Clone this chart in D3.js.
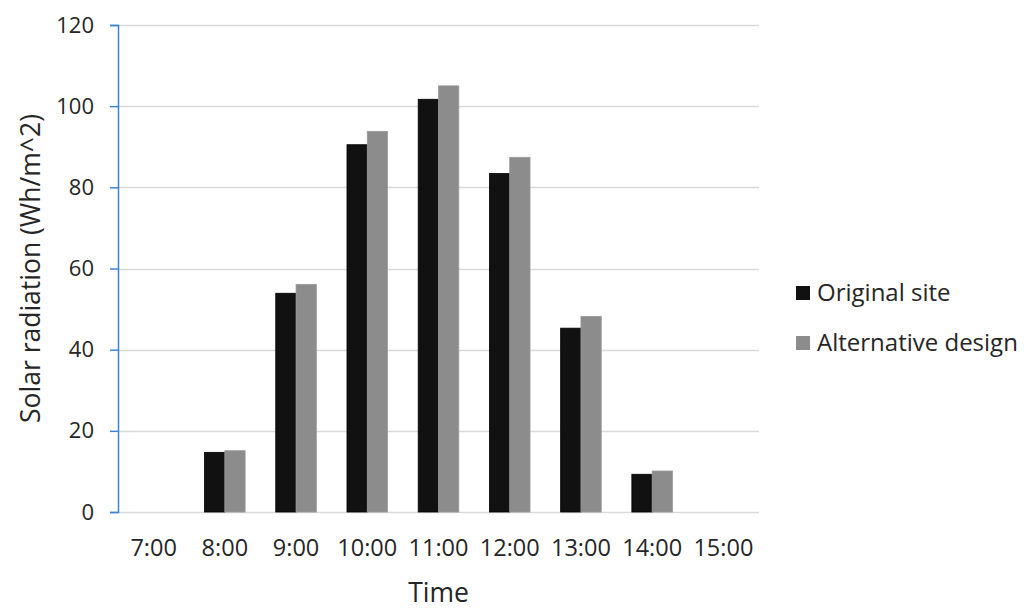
<!DOCTYPE html>
<html>
<head>
<meta charset="utf-8">
<script src="https://cdn.jsdelivr.net/npm/d3@7"></script>
<style>
  body { margin: 0; background: #fff; }
  text { font-family: "Open Sans", "Noto Sans", sans-serif; fill: #262626; }
</style>
</head>
<body>
<script>
var categories = ["7:00", "8:00", "9:00", "10:00", "11:00", "12:00", "13:00", "14:00", "15:00"];
var seriesNames = ["Original site", "Alternative design"];
var originalSite = [0, 14.7, 53.9, 90.5, 101.7, 83.4, 45.3, 9.3, 0];
var alternativeDesign = [0, 15.1, 56.1, 93.8, 105.0, 87.4, 48.2, 10.1, 0];
var yTicks = [0, 20, 40, 60, 80, 100, 120];

var colors = ["#111111", "#8c8c8c"];

var margin = {top: 25, right: 265, bottom: 102, left: 118},
    width = 1024 - margin.left - margin.right,
    height = 614 - margin.top - margin.bottom;

var data = categories.map(function(c, i) {
  return {cat: c, values: [originalSite[i], alternativeDesign[i]]};
});

var svg = d3.select("body").append("svg")
    .attr("width", 1024)
    .attr("height", 614);

var g = svg.append("g")
    .attr("transform", "translate(" + margin.left + "," + margin.top + ")");

var x = d3.scaleBand()
    .domain(categories)
    .range([0, width])
    .paddingInner(0.43)
    .paddingOuter(0.215);

var x1 = d3.scaleBand()
    .domain(d3.range(seriesNames.length))
    .range([0, x.bandwidth()]);

var y = d3.scaleLinear()
    .domain([0, 120])
    .range([height, 0]);

// gridlines
g.selectAll(".grid")
    .data(yTicks)
    .enter().append("line")
    .attr("x1", 0)
    .attr("x2", width)
    .attr("y1", function(d) { return Math.round(y(d)) + 0.5; })
    .attr("y2", function(d) { return Math.round(y(d)) + 0.5; })
    .attr("stroke", "#d9d9d9")
    .attr("stroke-width", 1.5);

// bars
var groups = g.selectAll(".grp")
    .data(data)
    .enter().append("g")
    .attr("transform", function(d) { return "translate(" + x(d.cat) + ",0)"; });

groups.selectAll("rect")
    .data(function(d) { return d.values; })
    .enter().append("rect")
    .attr("x", function(d, i) { return x1(i); })
    .attr("width", x1.bandwidth())
    .attr("y", function(d) { return y(d); })
    .attr("height", function(d) { return height - y(d); })
    .attr("fill", function(d, i) { return colors[i]; })
    .attr("stroke", function(d, i) { return i == 0 ? "#000" : "#9a9a9a"; })
    .attr("stroke-width", 0.8)
    .style("display", function(d) { return d > 0 ? null : "none"; });

// y axis
var yAxis = d3.axisLeft(y).tickValues(yTicks).tickSize(8).tickPadding(16);
var ya = g.append("g").call(yAxis);
ya.select(".domain").attr("stroke", "#3d85d6").attr("stroke-width", 1.5);
ya.selectAll(".tick line").attr("stroke", "#3d85d6").attr("stroke-width", 1.5);
ya.selectAll(".tick text")
    .style("font-size", "22px")
    .attr("fill", "#262626");

// x axis
var xAxis = d3.axisBottom(x).tickSize(0).tickPadding(27);
var xa = g.append("g")
    .attr("transform", "translate(0," + height + ")")
    .call(xAxis);
xa.select(".domain").remove();
xa.selectAll(".tick text")
    .style("font-size", "23.5px")
    .attr("fill", "#262626");

// axis titles
svg.append("text")
    .attr("x", margin.left + width / 2)
    .attr("y", 602)
    .attr("text-anchor", "middle")
    .style("font-size", "26.5px")
    .text("Time");

svg.append("text")
    .attr("transform", "translate(40," + (margin.top + height / 2) + ") rotate(-90)")
    .attr("text-anchor", "middle")
    .style("font-size", "26.5px")
    .text("Solar radiation (Wh/m^2)");

// legend
var legend = svg.selectAll(".legend")
    .data(seriesNames)
    .enter().append("g")
    .attr("transform", function(d, i) { return "translate(796," + (293 + i * 50) + ")"; });

legend.append("rect")
    .attr("x", 0)
    .attr("y", -7)
    .attr("width", 14)
    .attr("height", 14)
    .attr("fill", function(d, i) { return colors[i]; });

legend.append("text")
    .attr("x", 21)
    .attr("y", 0)
    .attr("dy", "0.35em")
    .style("font-size", "24px")
    .text(function(d) { return d; });
</script>
</body>
</html>
